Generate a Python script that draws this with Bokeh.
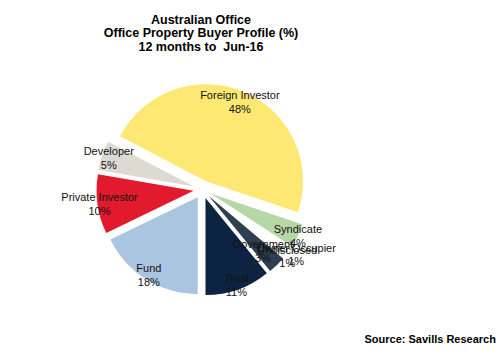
import math
from bokeh.plotting import figure
from bokeh.models import ColumnDataSource, Range1d
from bokeh.core.properties import value
from bokeh.embed import file_html
from bokeh.resources import INLINE

# ---- data ----
categories = ["Fund", "Private Investor", "Developer", "Foreign Investor", "Syndicate",
              "Owner Occupier", "Undisclosed", "Government", "Trust"]
shares = [18, 10, 5, 48, 4, 1, 1, 3, 11]
title_lines = ["Australian Office", "Office Property Buyer Profile (%)", "12 months to \u00a0Jun-16"]
source_text = "Source: Savills Research"

# ---- style ----
colors = ["#A9C5DF", "#E11B2D", "#DDDBD1", "#FDE874", "#B7D7A6",
          "#FFFFFF", "#FFFFFF", "#2E3F51", "#0C2442"]
label_dist = [101, 104, 99, 95, 106, 114, 108, 86, 101]
W, H = 502, 358
CX, CY = 202, H - 189
R = 97
EXPLODE = 9
FONT = "Liberation Sans"

p = figure(width=W, height=H, output_backend="svg", toolbar_location=None,
           x_range=Range1d(0, W), y_range=Range1d(0, H), min_border=0)
p.axis.visible = False
p.grid.visible = False
p.outline_line_color = None
p.background_fill_color = "white"
p.border_fill_color = "white"

total = sum(shares)
xs, ys, sa, ea, lx, ly, labels = [], [], [], [], [], [], []
cum = 0.0
for cat, v, d in zip(categories, shares, label_dist):
    a0 = -90 - cum / total * 360          # clockwise start (degrees)
    a1 = a0 - v / total * 360
    mid = math.radians((a0 + a1) / 2)
    xs.append(CX + EXPLODE * math.cos(mid))
    ys.append(CY + EXPLODE * math.sin(mid))
    sa.append(math.radians(a1))
    ea.append(math.radians(a0))
    lx.append(CX + d * math.cos(mid))
    ly.append(CY + d * math.sin(mid))
    labels.append(f"{cat}\n{v}%")
    cum += v

src = ColumnDataSource(dict(x=xs, y=ys, start=sa, end=ea, color=colors,
                            lx=lx, ly=ly, label=labels))
p.wedge(x="x", y="y", radius=R, start_angle="start", end_angle="end",
        fill_color="color", line_color=None, source=src)
p.text(x="lx", y="ly", text="label", source=src, text_align="center",
       text_baseline="middle", text_font=value(FONT), text_font_size="11px",
       text_color="#111111", text_line_height=1.15)

p.text(x=[200.5] * 3, y=[H - 19, H - 32.5, H - 46], text=title_lines,
       text_align="center", text_baseline="middle", text_font=value(FONT),
       text_font_size="12.5px", text_font_style="bold", text_color="#000000")
p.text(x=[364], y=[H - 338], text=[source_text], text_align="left",
       text_baseline="middle", text_font=value(FONT), text_font_size="11px",
       text_font_style="bold", text_color="#000000")

open("out.html", "w").write(file_html(p, INLINE))
